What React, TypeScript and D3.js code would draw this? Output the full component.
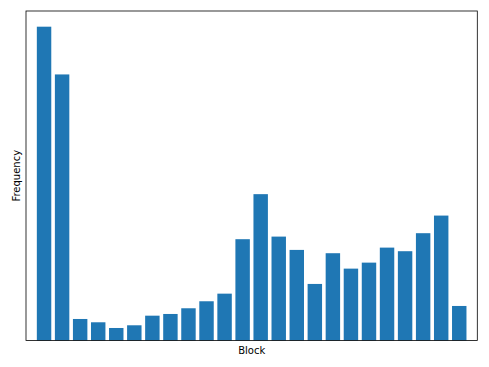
import React from "react";
import * as d3 from "d3";

const blocks: number[] = Array.from({ length: 24 }, (_, i) => i + 1);
const frequencies: number[] = [
  313.5, 265.8, 21.5, 18.2, 12.5, 15.2, 24.8, 26.5, 32.2, 39.2, 46.8, 101.2,
  146.2, 103.8, 90.5, 56.5, 87.2, 71.8, 77.8, 92.8, 89.2, 107.2, 124.8, 34.5,
];
const xLabel = "Block";
const yLabel = "Frequency";

export default function App() {
  const W = 489, H = 367;
  const left = 26, right = 477.3, top = 11, bottom = 340.5;
  const x = d3.scaleLinear().domain([-1, blocks.length]).range([left, right]);
  const y = d3.scaleLinear().domain([0, d3.max(frequencies)! * 1.05]).range([bottom, top]);
  const bw = 0.8;
  return (
    <svg width={W} height={H} style={{ position: "absolute", left: 0, top: 0 }}>
      <rect x={0} y={0} width={W} height={H} fill="white" />
      {frequencies.map((v, i) => (
        <rect
          key={blocks[i]}
          x={x(i - bw / 2)}
          y={y(v)}
          width={x(i + bw / 2) - x(i - bw / 2)}
          height={y(0) - y(v)}
          fill="#1f77b4"
        />
      ))}
      <rect x={left} y={top} width={right - left} height={bottom - top} fill="none" stroke="#000" strokeWidth={0.8} />
      <text x={(left + right) / 2} y={354} textAnchor="middle" fontFamily="DejaVu Sans" fontSize={10} fill="#000">
        {xLabel}
      </text>
      <text
        transform={`translate(20,${(top + bottom) / 2}) rotate(-90)`}
        textAnchor="middle"
        fontFamily="DejaVu Sans"
        fontSize={10}
        fill="#000"
      >
        {yLabel}
      </text>
    </svg>
  );
}
